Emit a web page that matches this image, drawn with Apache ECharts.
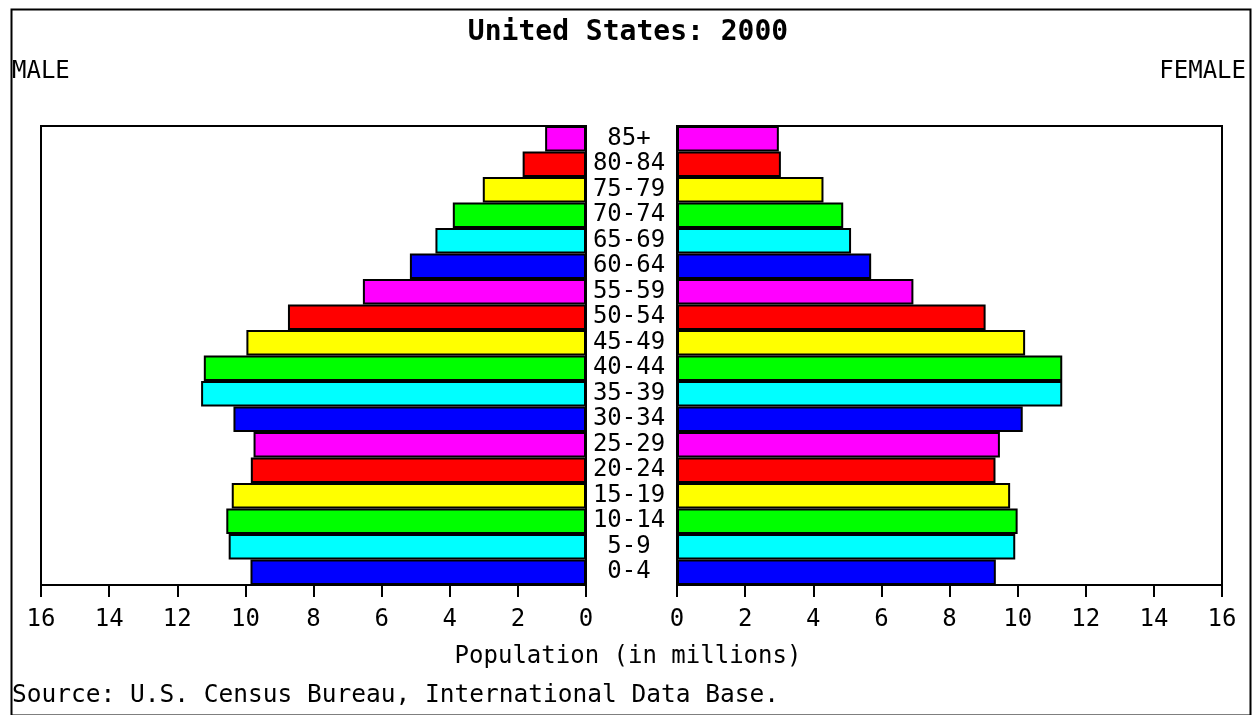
<!DOCTYPE html>
<html>
<head>
<meta charset="utf-8">
<script src="https://cdn.jsdelivr.net/npm/echarts@6/dist/echarts.min.js"></script>
<style>
html,body{margin:0;padding:0;background:#fff;}
#chart{width:1257px;height:715px;}
</style>
</head>
<body>
<div id="chart"></div>
<script>
const categories = ['0-4','5-9','10-14','15-19','20-24','25-29','30-34','35-39','40-44','45-49','50-54','55-59','60-64','65-69','70-74','75-79','80-84','85+'];
const male = [9.85,10.49,10.56,10.40,9.84,9.76,10.35,11.30,11.22,9.97,8.75,6.55,5.17,4.42,3.91,3.03,1.86,1.20];
const female = [9.36,9.93,10.00,9.78,9.35,9.48,10.15,11.31,11.31,10.22,9.06,6.94,5.70,5.11,4.88,4.30,3.05,2.99];
const palette = ['#0000ff','#00ffff','#00ff00','#ffff00','#ff0000','#ff00ff'];

const FONT = 'DejaVu Sans Mono';
const chart = echarts.init(document.getElementById('chart'), null, {renderer:'canvas'});

function xAxisCfg(gridIndex, inverse){
  return {
    type:'value', gridIndex, min:0, max:16, interval:2, inverse,
    axisLine:{show:true, lineStyle:{color:'#000', width:2}},
    axisTick:{show:true, length:12, lineStyle:{color:'#000', width:2}},
    axisLabel:{color:'#000', fontFamily:FONT, fontSize:24, margin:23},
    splitLine:{show:false}
  };
}

const option = {
  backgroundColor:'#fff',
  animation:false,
  grid:[
    {left:41, top:126, width:545, height:459, show:true, borderColor:'#000', borderWidth:2, backgroundColor:'transparent'},
    {left:677, top:126, width:545, height:459, show:true, borderColor:'#000', borderWidth:2, backgroundColor:'transparent'}
  ],
  xAxis:[ xAxisCfg(0,true), xAxisCfg(1,false) ],
  yAxis:[
    {type:'category', gridIndex:0, data:categories, position:'right',
     axisLine:{show:false}, axisTick:{show:false},
     axisLabel:{color:'#000', fontFamily:FONT, fontSize:24, align:'center', margin:43, interval:0}},
    {type:'category', gridIndex:1, data:categories,
     axisLine:{show:false}, axisTick:{show:false}, axisLabel:{show:false}}
  ],
  series:[
    {type:'bar', name:'Male', xAxisIndex:0, yAxisIndex:0, data:male, barCategoryGap:'0%',
     itemStyle:{color:p=>palette[p.dataIndex%palette.length], borderColor:'#000', borderWidth:2}},
    {type:'bar', name:'Female', xAxisIndex:1, yAxisIndex:1, data:female, barCategoryGap:'0%',
     itemStyle:{color:p=>palette[p.dataIndex%palette.length], borderColor:'#000', borderWidth:2}}
  ],
  graphic:[
    {type:'rect', left:9, top:7, shape:{width:1239, height:706}, style:{fill:'none', stroke:'#000', lineWidth:2}, silent:true, z:-1},
    {type:'text', x:628, y:33, style:{text:'United States: 2000', font:'bold 28px "DejaVu Sans Mono"', fill:'#000', textAlign:'center', textVerticalAlign:'middle'}},
    {type:'text', x:12, y:72, style:{text:'MALE', font:'24px "DejaVu Sans Mono"', fill:'#000', textAlign:'left', textVerticalAlign:'middle'}},
    {type:'text', x:1246, y:72, style:{text:'FEMALE', font:'24px "DejaVu Sans Mono"', fill:'#000', textAlign:'right', textVerticalAlign:'middle'}},
    {type:'text', x:628, y:657, style:{text:'Population (in millions)', font:'24px "DejaVu Sans Mono"', fill:'#000', textAlign:'center', textVerticalAlign:'middle'}},
    {type:'text', x:12, y:696, style:{text:'Source: U.S. Census Bureau, International Data Base.', font:'24.5px "DejaVu Sans Mono"', fill:'#000', textAlign:'left', textVerticalAlign:'middle'}}
  ]
};
chart.setOption(option);
</script>
</body>
</html>
